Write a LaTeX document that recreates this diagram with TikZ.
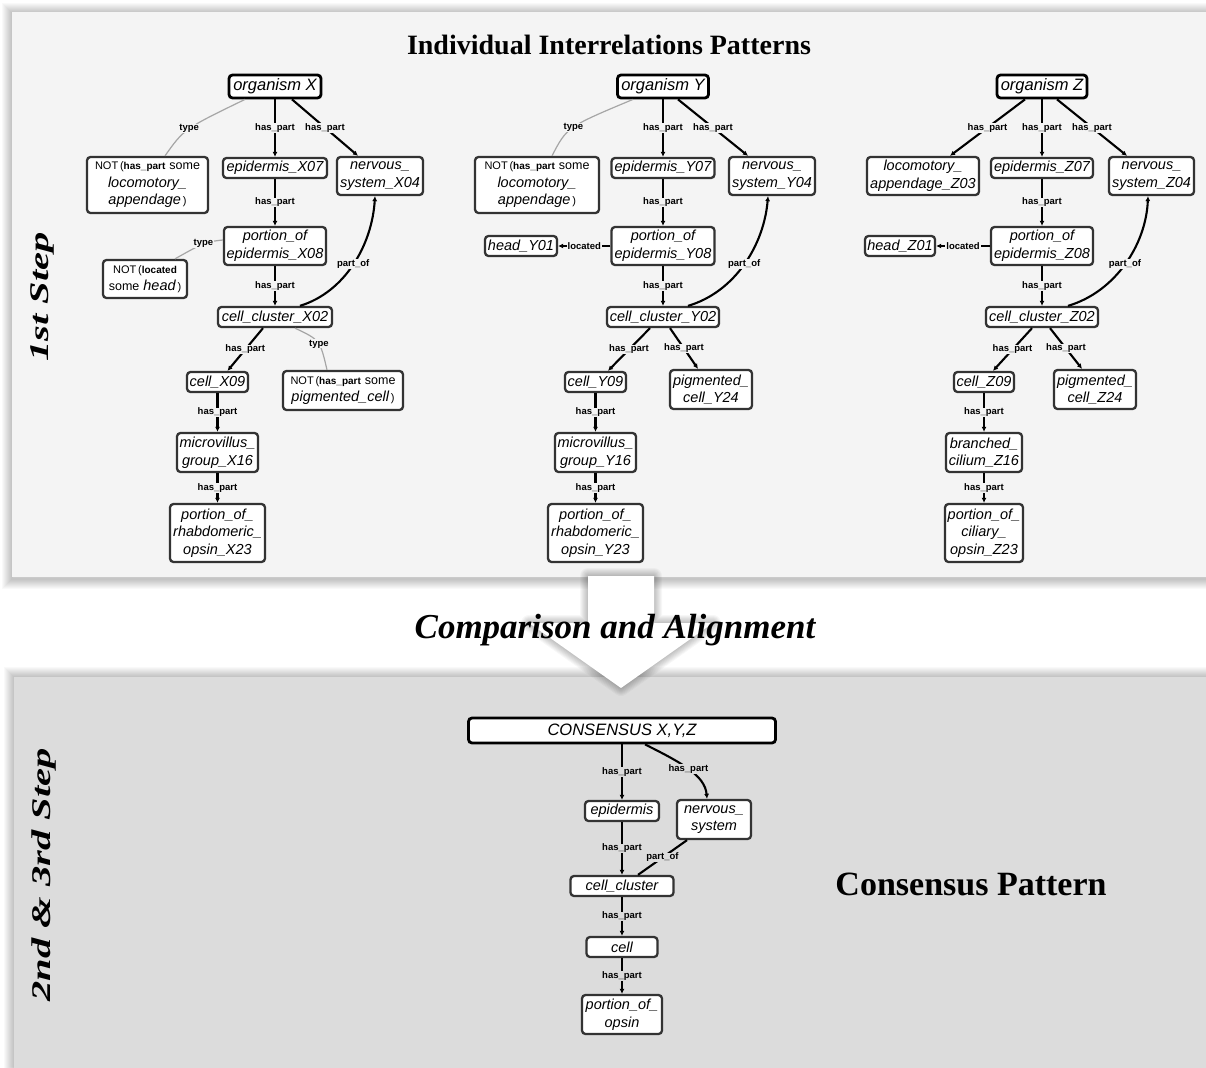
\documentclass[tikz,border=0pt]{standalone}
\usepackage{fontspec}
\usepackage{graphicx}
\setmainfont{Liberation Serif}
\setsansfont{Liberation Sans}
\usetikzlibrary{arrows.meta}

\definecolor{panelA}{HTML}{F4F4F4}
\definecolor{panelB}{HTML}{DCDCDC}
\definecolor{boxline}{HTML}{333333}

% pieces of the negated class expressions
\newcommand{\negop}{{\upshape\fontsize{11}{13}\selectfont NOT\,(}}
\newcommand{\relword}[1]{{\upshape\bfseries\fontsize{10}{13}\selectfont #1}}
\newcommand{\someword}{{\upshape\fontsize{12.5}{13}\selectfont some}}
\newcommand{\closeparen}{{\upshape\fontsize{11}{13}\selectfont\,)}}

\begin{document}
\begin{tikzpicture}[x=1pt,y=-1pt,
  term/.style={draw=boxline, line width=2.3pt, rounded corners=3.5pt, fill=white,
    font=\sffamily\itshape\fontsize{14.5}{17.5}\selectfont,
    inner xsep=2pt, inner ysep=2.5pt, align=center, minimum height=20pt},
  root/.style={term, draw=black, line width=2.8pt,
    font=\sffamily\itshape\fontsize{16.5}{19}\selectfont, minimum height=23pt},
  rel/.style={draw=black, line width=2.1pt, -{Latex[length=5pt,width=5pt]}},
  link/.style={draw=black, line width=2.1pt},
  typ/.style={draw=gray!70, line width=1.2pt},
  lbl/.style={font=\sffamily\bfseries\fontsize{9.5}{10}\selectfont, fill=panelA,
    inner xsep=1pt, inner ysep=0.5pt},
  lblB/.style={lbl, fill=panelB},
  steplabel/.style={rotate=90, font=\bfseries\itshape\fontsize{27}{30}\selectfont},
]
\useasboundingbox (0,0) rectangle (1206,1067);
\clip (0,0) rectangle (1206,1067);
\fill[white] (0,0) rectangle (1206,1067);

% upper panel with soft shadow
\foreach \w in {2,4,...,20}{
  \draw[black, opacity=0.024, line width=\w pt] (12,13) rectangle (1240,579);
}
\fill[panelA] (12,12) rectangle (1240,577);

% lower panel with soft shadow
\foreach \w in {2,4,...,20}{
  \draw[black, opacity=0.024, line width=\w pt] (14,677) rectangle (1240,1100);
}
\fill[panelB] (14,677) rectangle (1240,1100);

% big downward arrow between the panels
\foreach \w in {2,4,...,16}{
  \draw[black, opacity=0.03, line width=\w pt, line join=round]
    (588,576) -- (654,576) -- (654,623) -- (713,623) -- (621,688) -- (529,623) -- (588,623) -- cycle;
}
\fill[white] (588,576) -- (654,576) -- (654,623) -- (713,623) -- (621,688) -- (529,623) -- (588,623) -- cycle;

% headings
\node[font=\bfseries\fontsize{28}{32}\selectfont, anchor=base] (ttl) at (609,55) {Individual Interrelations Patterns};
\node[steplabel] (stepone) at (42,297) {\scalebox{1.5}[1]{1st Step}};
\node[steplabel] (steptwo) at (44,875) {\scalebox{1.5}[1]{2nd \& 3rd Step}};
\node[font=\bfseries\itshape\fontsize{35}{40}\selectfont, anchor=base] (cmp) at (615,638) {Comparison and Alignment};
\node[font=\bfseries\fontsize{34}{40}\selectfont, anchor=base] (cpat) at (971,895) {Consensus Pattern};

% ---------------- organism X ----------------
\node[root, minimum width=92pt] (orgX) at (275,86.5) {organism X};
\node[term, minimum width=121pt, minimum height=56pt] (notLocX) at (147.5,185)
  {\negop\relword{has\_part} \someword\\locomotory\_\\appendage\closeparen};
\node[term, minimum width=104pt] (epiX) at (275,168) {epidermis\_X07};
\node[term, minimum width=86pt, minimum height=38pt] (nsX) at (380,176) {nervous\_\\system\_X04};
\node[term, minimum width=102pt, minimum height=38pt] (porX) at (275,246) {portion\_of\\epidermis\_X08};
\node[term, minimum width=84pt, minimum height=38pt] (notHeadX) at (145,279)
  {\negop\relword{located}\\\someword\ head\closeparen};
\node[term, minimum width=114pt] (ccX) at (275,317) {cell\_cluster\_X02};
\node[term, minimum width=61pt] (cellX) at (217.5,382) {cell\_X09};
\node[term, minimum width=120pt, minimum height=39pt] (notPigX) at (343,390.5)
  {\negop\relword{has\_part} \someword\\pigmented\_cell\closeparen};
\node[term, minimum width=81pt, minimum height=39pt] (mvX) at (217.5,452.5) {microvillus\_\\group\_X16};
\node[term, minimum width=95pt, minimum height=58pt] (opX) at (217.5,533) {portion\_of\_\\rhabdomeric\_\\opsin\_X23};

\draw[rel] (orgX) -- node[lbl]{has\_part} (epiX);
\draw[rel] ([xshift=17pt]orgX.south) -- node[lbl]{has\_part} ([xshift=-22pt]nsX.north);
\draw[typ] ([xshift=-30pt]orgX.south) .. controls (184,129) .. ([xshift=17.5pt]notLocX.north) node[lbl,pos=0.5]{type};
\draw[rel] (epiX) -- node[lbl]{has\_part} (porX);
\draw[typ] ([yshift=6pt]porX.west) .. controls (205,242) .. ([xshift=30pt]notHeadX.north) node[lbl,pos=0.5]{type};
\draw[rel] (porX) -- node[lbl]{has\_part} (ccX);
\draw[rel] ([xshift=25pt]ccX.north) .. controls (345,292) and (372,245) .. ([xshift=-5pt]nsX.south) node[lbl,pos=0.5]{part\_of};
\draw[rel] ([xshift=-12pt]ccX.south) -- node[lbl]{has\_part} ([xshift=10pt]cellX.north);
\draw[typ] ([xshift=20pt]ccX.south) .. controls (320,340) .. ([xshift=-16pt]notPigX.north) node[lbl,pos=0.55]{type};
\draw[rel] (cellX) -- node[lbl]{has\_part} (mvX);
\draw[rel] (mvX) -- node[lbl]{has\_part} (opX);

% ---------------- organism Y ----------------
\node[root, minimum width=91pt] (orgY) at (663,86.5) {organism Y};
\node[term, minimum width=124pt, minimum height=56pt] (notLocY) at (537,185)
  {\negop\relword{has\_part} \someword\\locomotory\_\\appendage\closeparen};
\node[term, minimum width=103pt] (epiY) at (663,168) {epidermis\_Y07};
\node[term, minimum width=86pt, minimum height=38pt] (nsY) at (772,176) {nervous\_\\system\_Y04};
\node[term, minimum width=103pt, minimum height=38pt] (porY) at (663,246) {portion\_of\\epidermis\_Y08};
\node[term, minimum width=72pt] (headY) at (521,246) {head\_Y01};
\node[term, minimum width=112pt] (ccY) at (663,317) {cell\_cluster\_Y02};
\node[term, minimum width=61pt] (cellY) at (595.5,382) {cell\_Y09};
\node[term, minimum width=82pt, minimum height=39pt] (pigY) at (711,389.5) {pigmented\_\\cell\_Y24};
\node[term, minimum width=81pt, minimum height=39pt] (mvY) at (595.5,452.5) {microvillus\_\\group\_Y16};
\node[term, minimum width=95pt, minimum height=58pt] (opY) at (595.5,533) {portion\_of\_\\rhabdomeric\_\\opsin\_Y23};

\draw[rel] (orgY) -- node[lbl]{has\_part} (epiY);
\draw[rel] ([xshift=15pt]orgY.south) -- node[lbl]{has\_part} ([xshift=-24pt]nsY.north);
\draw[typ] ([xshift=-30pt]orgY.south) .. controls (567,127) .. ([xshift=15pt]notLocY.north) node[lbl,pos=0.5]{type};
\draw[rel] (epiY) -- node[lbl]{has\_part} (porY);
\draw[rel] (porY) -- node[lbl]{located} (headY);
\draw[rel] (porY) -- node[lbl]{has\_part} (ccY);
\draw[rel] ([xshift=25pt]ccY.north) .. controls (735,292) and (764,245) .. ([xshift=-4pt]nsY.south) node[lbl,pos=0.5]{part\_of};
\draw[rel] ([xshift=-13pt]ccY.south) -- node[lbl]{has\_part} ([xshift=12.5pt]cellY.north);
\draw[rel] ([xshift=7pt]ccY.south) -- node[lbl]{has\_part} ([xshift=-13pt]pigY.north);
\draw[rel] (cellY) -- node[lbl]{has\_part} (mvY);
\draw[rel] (mvY) -- node[lbl]{has\_part} (opY);

% ---------------- organism Z ----------------
\node[root, minimum width=90pt] (orgZ) at (1042,86.5) {organism Z};
\node[term, minimum width=112pt, minimum height=38pt] (locZ) at (923,176) {locomotory\_\\appendage\_Z03};
\node[term, minimum width=102pt] (epiZ) at (1042,168) {epidermis\_Z07};
\node[term, minimum width=85pt, minimum height=38pt] (nsZ) at (1151.5,176) {nervous\_\\system\_Z04};
\node[term, minimum width=102pt, minimum height=38pt] (porZ) at (1042,246) {portion\_of\\epidermis\_Z08};
\node[term, minimum width=70pt] (headZ) at (900,246) {head\_Z01};
\node[term, minimum width=112pt] (ccZ) at (1042,317) {cell\_cluster\_Z02};
\node[term, minimum width=60pt] (cellZ) at (984,382) {cell\_Z09};
\node[term, minimum width=82pt, minimum height=39pt] (pigZ) at (1095,389.5) {pigmented\_\\cell\_Z24};
\node[term, minimum width=76pt, minimum height=39pt] (brZ) at (984,452.5) {branched\_\\cilium\_Z16};
\node[term, minimum width=78pt, minimum height=58pt] (opZ) at (984,533) {portion\_of\_\\ciliary\_\\opsin\_Z23};

\draw[rel] ([xshift=-17pt]orgZ.south) -- node[lbl]{has\_part} ([xshift=27pt]locZ.north);
\draw[rel] (orgZ) -- node[lbl]{has\_part} (epiZ);
\draw[rel] ([xshift=15pt]orgZ.south) -- node[lbl]{has\_part} ([xshift=-24.5pt]nsZ.north);
\draw[rel] (epiZ) -- node[lbl]{has\_part} (porZ);
\draw[rel] (porZ) -- node[lbl]{located} (headZ);
\draw[rel] (porZ) -- node[lbl]{has\_part} (ccZ);
\draw[rel] ([xshift=26pt]ccZ.north) .. controls (1115,292) and (1146,245) .. ([xshift=-3.5pt]nsZ.south) node[lbl,pos=0.5]{part\_of};
\draw[rel] ([xshift=-10pt]ccZ.south) -- node[lbl]{has\_part} ([xshift=9pt]cellZ.north);
\draw[rel] ([xshift=8pt]ccZ.south) -- node[lbl]{has\_part} ([xshift=-13pt]pigZ.north);
\draw[rel] (cellZ) -- node[lbl]{has\_part} (brZ);
\draw[rel] (brZ) -- node[lbl]{has\_part} (opZ);

% ---------------- consensus ----------------
\node[root, minimum width=307pt, minimum height=25pt] (cons) at (622,730.5) {CONSENSUS X,Y,Z};
\node[term, minimum width=74pt] (epiC) at (622,811) {epidermis};
\node[term, minimum width=74pt, minimum height=39pt] (nsC) at (714,819.5) {nervous\_\\system};
\node[term, minimum width=103pt] (ccC) at (622,886) {cell\_cluster};
\node[term, minimum width=71pt] (cellC) at (622,947) {cell};
\node[term, minimum width=80pt, minimum height=39pt] (opC) at (622,1014.5) {portion\_of\_\\opsin};

\draw[rel] (cons) -- node[lblB]{has\_part} (epiC);
\draw[rel] ([xshift=23pt]cons.south) .. controls (680,762) and (705,775) .. ([xshift=-7pt]nsC.north) node[lblB,pos=0.5]{has\_part};
\draw[rel] (epiC) -- node[lblB]{has\_part} (ccC);
\draw[link] ([xshift=16pt]ccC.north) -- node[lblB]{part\_of} ([xshift=-27pt]nsC.south);
\draw[rel] (ccC) -- node[lblB]{has\_part} (cellC);
\draw[rel] (cellC) -- node[lblB]{has\_part} (opC);
\end{tikzpicture}
\end{document}
